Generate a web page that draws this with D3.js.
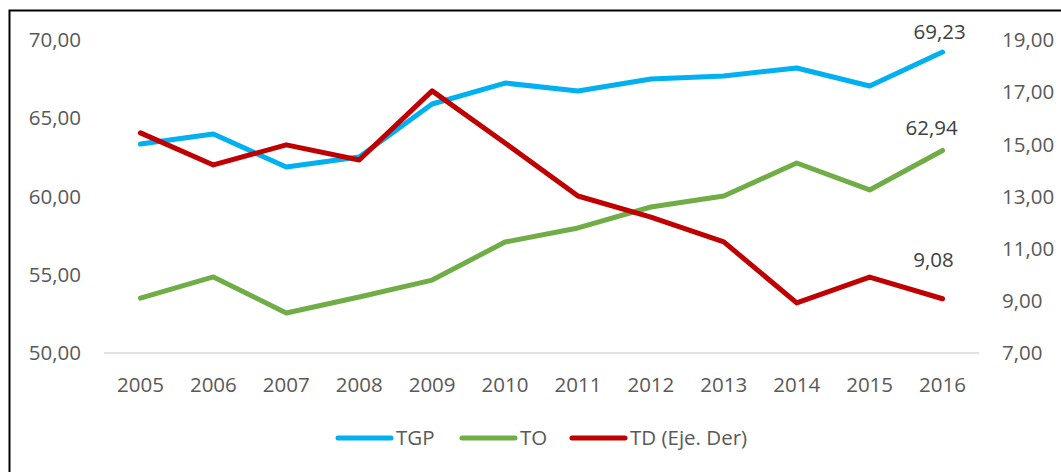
<!DOCTYPE html>
<html>
<head>
<meta charset="utf-8">
<script src="https://cdn.jsdelivr.net/npm/d3@7"></script>
<style>
  body { margin: 0; background: #fff; }
  svg { display: block; font-family: "Open Sans", sans-serif; }
</style>
</head>
<body>
<svg width="1061" height="472"></svg>
<script>
const years = ["2005","2006","2007","2008","2009","2010","2011","2012","2013","2014","2015","2016"];
const tgp = [63.35, 63.99, 61.88, 62.52, 65.91, 67.25, 66.74, 67.51, 67.70, 68.21, 67.06, 69.23];
const to = [53.51, 54.86, 52.56, 53.58, 54.66, 57.09, 57.99, 59.33, 60.03, 62.14, 60.42, 62.94];
const td = [15.44, 14.21, 14.98, 14.40, 17.05, 15.05, 13.02, 12.21, 11.26, 8.92, 9.91, 9.08];
const leftTicks = [50, 55, 60, 65, 70];
const rightTicks = [7, 9, 11, 13, 15, 17, 19];

const svg = d3.select("svg");
const fmt = v => v.toFixed(2).replace(".", ",");
const fs = 20.5;

// frame (right and bottom edges fall outside the picture)
svg.append("rect")
  .attr("x", 9.5).attr("y", 10.5)
  .attr("width", 1100).attr("height", 500)
  .attr("fill", "none").attr("stroke", "#000").attr("stroke-width", 2);

const x = d3.scalePoint().domain(years).range([104, 979]).padding(0.5);
const yL = d3.scaleLinear().domain([50, 70]).range([353, 40]);
const yR = d3.scaleLinear().domain([7, 19]).range([353, 40]);

// left axis labels
svg.append("g").selectAll("text")
  .data(leftTicks).enter().append("text")
  .attr("x", 81).attr("y", d => yL(d)).attr("dy", "0.35em")
  .attr("text-anchor", "end").attr("font-size", fs).attr("fill", "#595959")
  .text(fmt);

// right axis labels
svg.append("g").selectAll("text")
  .data(rightTicks).enter().append("text")
  .attr("x", 1002).attr("y", d => yR(d)).attr("dy", "0.35em")
  .attr("text-anchor", "start").attr("font-size", fs).attr("fill", "#595959")
  .text(fmt);

// baseline
svg.append("line")
  .attr("x1", 104).attr("x2", 979)
  .attr("y1", yL(50)).attr("y2", yL(50))
  .attr("stroke", "#d9d9d9").attr("stroke-width", 1.5);

// x labels
svg.append("g").selectAll("text")
  .data(years).enter().append("text")
  .attr("x", d => x(d)).attr("y", 385).attr("dy", "0.35em")
  .attr("text-anchor", "middle").attr("font-size", fs).attr("fill", "#595959")
  .text(d => d);

const series = [
  { name: "TGP", values: tgp, scale: yL, color: "#00B0F0", lx: -3, ly: -20 },
  { name: "TO", values: to, scale: yL, color: "#70AD47", lx: -11, ly: -23 },
  { name: "TD (Eje. Der)", values: td, scale: yR, color: "#C00000", lx: -9, ly: -39 }
];

series.forEach(s => {
  const line = d3.line()
    .x((d, i) => x(years[i]))
    .y(d => s.scale(d));
  svg.append("path")
    .datum(s.values)
    .attr("d", line)
    .attr("fill", "none")
    .attr("stroke", s.color)
    .attr("stroke-width", 5)
    .attr("stroke-linejoin", "round")
    .attr("stroke-linecap", "round");

  const last = s.values[s.values.length - 1];
  svg.append("text")
    .attr("x", x(years[years.length - 1]) + s.lx)
    .attr("y", s.scale(last) + s.ly)
    .attr("dy", "0.35em")
    .attr("text-anchor", "middle").attr("font-size", fs).attr("fill", "#404040")
    .text(fmt(last));
});

// legend
const legendX = [338, 462, 572];
const legend = svg.append("g");
series.forEach((s, i) => {
  legend.append("line")
    .attr("x1", legendX[i]).attr("x2", legendX[i] + 53)
    .attr("y1", 438).attr("y2", 438)
    .attr("stroke", s.color).attr("stroke-width", 5)
    .attr("stroke-linecap", "round");
  legend.append("text")
    .attr("x", legendX[i] + 58).attr("y", 438).attr("dy", "0.35em")
    .attr("font-size", fs).attr("fill", "#595959")
    .text(s.name);
});
</script>
</body>
</html>
